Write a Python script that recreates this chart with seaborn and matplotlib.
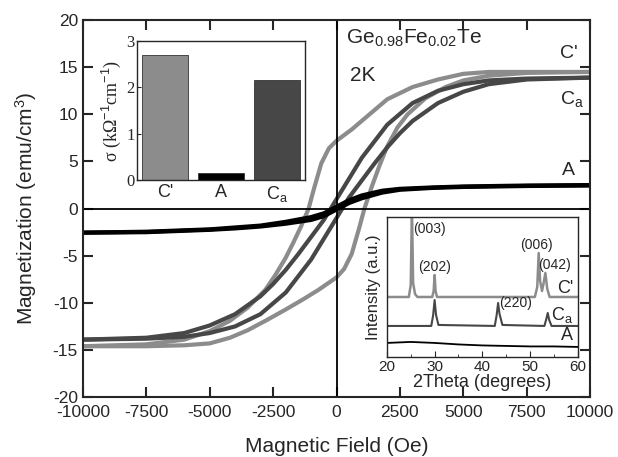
import matplotlib
matplotlib.use('Agg')

import pandas as pd
import numpy as np
import matplotlib.pyplot as plt
import seaborn as sns

# ---- hysteresis loops at 2K (field in Oe, magnetization in emu/cm3) ----
# C' : descending branch (from +H to -H)
cp_desc_H = [10000, 7500, 6000, 5000, 4000, 3000, 2000, 1300, 600, 0, -300, -600, -900,
             -1100, -1400, -1700, -2000, -2400, -2800, -3500, -4200, -5000, -6000, -7500, -10000]
cp_desc_M = [14.5, 14.5, 14.5, 14.3, 13.7, 12.9, 11.6, 10.0, 8.4, 7.2, 6.4, 4.8, 2.0,
             0.0, -1.9, -3.6, -5.2, -7.0, -8.6, -10.5, -11.9, -13.0, -13.9, -14.4, -14.6]
# C' : ascending branch
cp_asc_H = [-10000, -7500, -6000, -5000, -4200, -3500, -2800, -2000, -1300, -700, 0, 300, 600,
            900, 1100, 1400, 1700, 2000, 2400, 2800, 3500, 4300, 5000, 6000, 7500, 10000]
cp_asc_M = [-14.6, -14.6, -14.5, -14.3, -13.7, -12.9, -11.9, -10.7, -9.6, -8.6, -7.3, -6.4, -4.8,
            -2.0, 0.0, 2.4, 4.6, 6.6, 8.6, 10.0, 11.7, 12.9, 13.6, 14.1, 14.4, 14.5]

# Ca
ca_desc_H = [10000, 7500, 6000, 5000, 4000, 3000, 2000, 1000, 500, 0, -500, -1000, -1500,
             -2000, -2500, -3000, -4000, -5000, -6000, -7500, -10000]
ca_desc_M = [13.9, 13.8, 13.6, 13.2, 12.5, 11.2, 8.9, 5.4, 3.2, 1.0, -1.2, -3.0, -4.8,
             -6.5, -8.0, -9.3, -11.2, -12.4, -13.2, -13.7, -13.9]
ca_asc_H = [-10000, -7500, -6000, -5000, -4000, -3000, -2000, -1000, -500, 0, 500, 1000, 1500,
            2000, 2500, 3000, 4000, 5000, 6000, 7500, 10000]
ca_asc_M = [-13.9, -13.8, -13.6, -13.2, -12.5, -11.2, -8.9, -5.4, -3.2, -1.0, 1.2, 3.0, 4.8,
            6.5, 8.0, 9.3, 11.2, 12.4, 13.2, 13.7, 13.9]

# A
a_desc_H = [10000, 7500, 5000, 3800, 2500, 1800, 1000, 500, 0, -500, -1000, -2000, -3000,
            -4000, -5000, -7500, -10000]
a_desc_M = [2.5, 2.45, 2.35, 2.25, 2.1, 1.9, 1.4, 0.9, 0.2, -0.5, -0.9, -1.4, -1.8,
            -2.0, -2.2, -2.45, -2.55]
a_asc_H = [-10000, -7500, -5000, -4000, -3000, -2000, -1000, -500, 0, 500, 1000, 1800, 2500,
           3800, 5000, 7500, 10000]
a_asc_M = [-2.55, -2.5, -2.25, -2.1, -1.9, -1.6, -1.2, -0.8, -0.1, 0.6, 1.1, 1.7, 2.0,
           2.2, 2.3, 2.4, 2.45]

# ---- conductivity inset ----
samples = ["C'", "A", r"C$_\mathrm{a}$"]
sigma = [2.7, 0.15, 2.15]

# ---- XRD inset (2theta in degrees, intensity in a.u.) ----
xrd_cp_t = [20, 24.6, 25.0, 25.25, 25.5, 25.9, 26.4, 29.5, 29.8, 30.0, 30.2, 30.5, 51.0,
            51.5, 51.8, 52.1, 52.5, 52.8, 53.2, 53.6, 54.1, 60]
xrd_cp_i = [60, 60, 72, 150, 74, 63, 60, 60, 66, 82, 66, 60, 60,
            70, 104, 76, 66, 73, 84, 68, 60, 60]
xrd_ca_t = [20, 29.3, 29.7, 30.0, 30.3, 30.8, 42.6, 43.0, 43.3, 43.6, 44.2, 53.0, 53.4,
            53.7, 54.0, 54.5, 60]
xrd_ca_i = [31, 31, 42, 57, 42, 32, 31, 42, 54, 43, 32, 31, 38,
            44, 37, 31, 31]
xrd_a_t = [20, 25, 30, 35, 40, 45, 50, 55, 60]
xrd_a_i = [14, 15, 14, 12.5, 11.5, 11, 10.5, 10.5, 10]

c_cp = '#8c8c8c'
c_ca = '#474747'
c_a = '#000000'

sns.set_style('ticks')
plt.rcParams['font.family'] = ['Liberation Sans', 'DejaVu Sans']
plt.rcParams['mathtext.fontset'] = 'custom'
plt.rcParams['mathtext.rm'] = 'Liberation Sans'
plt.rcParams['mathtext.it'] = 'Liberation Sans:italic'
plt.rcParams['axes.unicode_minus'] = False

fig = plt.figure(figsize=(6.18, 4.57), dpi=100)
ax = fig.add_axes([0.134, 0.131, 0.821, 0.825])

for H, M, c in [(cp_desc_H, cp_desc_M, c_cp), (cp_asc_H, cp_asc_M, c_cp),
                (ca_desc_H, ca_desc_M, c_ca), (ca_asc_H, ca_asc_M, c_ca),
                (a_desc_H, a_desc_M, c_a), (a_asc_H, a_asc_M, c_a)]:
    sns.lineplot(x=H, y=M, ax=ax, color=c, lw=3.0, sort=False, estimator=None)

ax.axhline(0, color='black', lw=1.3)
ax.axvline(0, color='black', lw=1.3)
ax.set_xlim(-10000, 10000)
ax.set_ylim(-20, 20)
ax.set_xticks(np.arange(-10000, 10001, 2500))
ax.set_yticks(np.arange(-20, 21, 5))
ax.tick_params(direction='in', top=True, right=True, length=7, width=1.5, labelsize=12.5)
ax.tick_params(axis='x', pad=6)
for s in ax.spines.values():
    s.set_linewidth(1.5)
ax.set_xlabel('Magnetic Field (Oe)', fontsize=15, labelpad=12)
ax.set_ylabel(r'Magnetization (emu/cm$^3$)', fontsize=15, labelpad=10)

ax.text(0.518, 0.952, r'Ge$_{0.98}$Fe$_{0.02}$Te', transform=ax.transAxes, fontsize=15, va='center')
ax.text(0.527, 0.854, '2K', transform=ax.transAxes, fontsize=15, va='center')
ax.text(0.94, 0.912, "C'", transform=ax.transAxes, fontsize=14, va='center')
ax.text(0.94, 0.79, r'C$_\mathrm{a}$', transform=ax.transAxes, fontsize=14, va='center')
ax.text(0.945, 0.602, 'A', transform=ax.transAxes, fontsize=14, va='center')

# conductivity inset
ax1 = fig.add_axes([0.222, 0.606, 0.272, 0.304])
sns.barplot(x=samples, y=sigma, hue=samples, palette=[c_cp, c_a, c_ca], ax=ax1,
            width=0.82, edgecolor='#333333', linewidth=0.6, legend=False)
ax1.set_ylim(0, 3)
ax1.set_yticks([0, 1, 2, 3])
ax1.set_yticklabels(['0', '1', '2', '3'], family='Liberation Serif', fontsize=12)
ax1.tick_params(axis='y', direction='in', length=3, pad=2)
ax1.tick_params(axis='x', length=0, labelsize=13, pad=3)
ax1.set_ylabel(r'σ (kΩ$^{-1}$cm$^{-1}$)', family='Liberation Serif', fontsize=13, labelpad=2)
for s in ax1.spines.values():
    s.set_linewidth(1.0)

# XRD inset
ax2 = fig.add_axes([0.626, 0.219, 0.309, 0.306])
sns.lineplot(x=xrd_cp_t, y=xrd_cp_i, ax=ax2, color=c_cp, lw=1.8, sort=False, estimator=None)
sns.lineplot(x=xrd_ca_t, y=xrd_ca_i, ax=ax2, color=c_ca, lw=1.5, sort=False, estimator=None)
sns.lineplot(x=xrd_a_t, y=xrd_a_i, ax=ax2, color=c_a, lw=1.3, sort=False, estimator=None)
ax2.set_xlim(20, 60)
ax2.set_ylim(0, 140)
ax2.set_xticks([20, 30, 40, 50, 60])
ax2.set_xticks([25, 35, 45, 55], minor=True)
ax2.set_yticks([])
ax2.tick_params(axis='x', which='both', direction='in', labelsize=11, pad=2)
ax2.tick_params(axis='x', which='major', length=4)
ax2.tick_params(axis='x', which='minor', length=2)
ax2.set_xlabel('2Theta (degrees)', fontsize=13, labelpad=0)
ax2.set_ylabel('Intensity (a.u.)', fontsize=12, labelpad=4)
for s in ax2.spines.values():
    s.set_linewidth(1.0)
for t, y, lab in [(25.6, 128, '(003)'), (30.0, 90, '(202)'), (51.4, 112, '(006)'),
                  (55.2, 92, '(042)'), (47.0, 54, '(220)')]:
    ax2.text(t, y, lab, fontsize=10, ha='center' if lab != '(003)' else 'left', va='center')
ax2.text(59, 68, "C'", fontsize=13, ha='right', va='center')
ax2.text(59, 42, r'C$_\mathrm{a}$', fontsize=13, ha='right', va='center')
ax2.text(59, 21, 'A', fontsize=13, ha='right', va='center')

fig.savefig('out.png', dpi=100)
